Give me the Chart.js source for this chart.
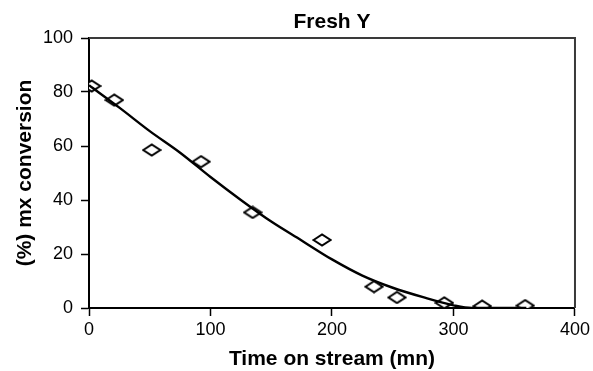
<!DOCTYPE html>
<html lang="en">

<head>
  <meta charset="UTF-8">
  <title>Fresh Y</title>
  <style>
    body {
      margin: 0;
      background-color: #ffffff;
    }

    .chart-box {
      width: 593px;
      height: 371px;
      position: relative;
    }
  </style>
  <script src="https://cdn.jsdelivr.net/npm/chart.js"></script>
</head>

<body>
  <div class="chart-box">
    <canvas id="freshChart"></canvas>
  </div>

  <script>
    // measured conversion vs time on stream
    const timeMeasured = [2.2, 20.8, 51.6, 92.2, 134.7, 191.8, 234.6, 253.5, 292.4, 323.6, 359];
    const convMeasured = [82.2, 77, 58.5, 54.2, 35.4, 25.2, 7.9, 3.9, 1.9, 0.7, 0.9];

    // fitted trend curve
    const timeFit = [0, 25, 50, 75, 100, 125, 150, 175, 200, 225, 250, 275, 300, 315, 330, 345, 360];
    const convFit = [82.5, 74.2, 65.5, 57.5, 48.5, 40, 32, 25, 18, 12, 7.5, 4, 1, 0, 0, 0, 0];

    const xTicks = [0, 100, 200, 300, 400];
    const yTicks = [0, 20, 40, 60, 80, 100];

    const chartTitle = 'Fresh Y';
    const fontFamily = '"Liberation Sans", Arial, sans-serif';

    // open diamond marker, a bit wider than tall
    function makeDiamond() {
      const c = document.createElement('canvas');
      c.width = 20;
      c.height = 14;
      const g = c.getContext('2d');
      g.beginPath();
      g.moveTo(1.5, 7);
      g.lineTo(10, 1.5);
      g.lineTo(18.5, 7);
      g.lineTo(10, 12.5);
      g.closePath();
      g.fillStyle = '#ffffff';
      g.fill();
      g.lineWidth = 2;
      g.strokeStyle = '#000000';
      g.stroke();
      return c;
    }

    // top and right edges of the plot frame, title centred over the plot
    const frame = {
      id: 'frame',
      afterDraw(chart) {
        const { ctx, chartArea: a } = chart;
        ctx.save();
        ctx.strokeStyle = '#3a3a3a';
        ctx.lineWidth = 2;
        ctx.beginPath();
        ctx.moveTo(a.left, a.top);
        ctx.lineTo(a.right, a.top);
        ctx.lineTo(a.right, a.bottom);
        ctx.stroke();

        ctx.fillStyle = '#000000';
        ctx.font = 'bold 21px ' + fontFamily;
        ctx.textAlign = 'center';
        ctx.textBaseline = 'alphabetic';
        ctx.fillText(chartTitle, (a.left + a.right) / 2, 28);
        ctx.restore();
      }
    };

    const ctx = document.getElementById('freshChart').getContext('2d');

    new Chart(ctx, {
      type: 'scatter',
      data: {
        datasets: [{
          label: 'fit',
          data: timeFit.map((t, i) => ({ x: t, y: convFit[i] })),
          showLine: true,
          borderColor: '#000000',
          borderWidth: 2.4,
          pointRadius: 0,
          cubicInterpolationMode: 'monotone'
        }, {
          label: 'measured',
          data: timeMeasured.map((t, i) => ({ x: t, y: convMeasured[i] })),
          pointStyle: makeDiamond(),
          pointRadius: 8
        }]
      },
      options: {
        responsive: true,
        maintainAspectRatio: false,
        animation: false,
        layout: {
          padding: { left: 0, right: 18, top: 38, bottom: 0 }
        },
        plugins: {
          legend: { display: false },
          tooltip: { enabled: false },
          title: { display: false }
        },
        scales: {
          x: {
            type: 'linear',
            min: 0,
            max: 400,
            afterBuildTicks: s => { s.ticks = xTicks.map(v => ({ value: v })); },
            afterFit: s => { s.height = 63; },
            grid: {
              drawOnChartArea: false,
              drawTicks: true,
              tickLength: 8,
              tickColor: '#000000',
              tickWidth: 1.5
            },
            border: { color: '#000000', width: 2 },
            ticks: {
              color: '#000000',
              padding: 3,
              font: { family: fontFamily, size: 18 }
            },
            title: {
              display: true,
              text: 'Time on stream (mn)',
              color: '#000000',
              font: { family: fontFamily, size: 21, weight: 'bold', lineHeight: 1.1 },
              padding: { top: 0, bottom: 0 }
            }
          },
          y: {
            type: 'linear',
            min: 0,
            max: 100,
            afterBuildTicks: s => { s.ticks = yTicks.map(v => ({ value: v })); },
            afterFit: s => { s.width = 89; },
            grid: {
              drawOnChartArea: false,
              drawTicks: true,
              tickLength: 8,
              tickColor: '#000000',
              tickWidth: 1.5
            },
            border: { color: '#000000', width: 2 },
            ticks: {
              color: '#000000',
              padding: 8,
              font: { family: fontFamily, size: 18 }
            },
            title: {
              display: true,
              text: '(%) mx conversion',
              color: '#000000',
              font: { family: fontFamily, size: 21, weight: 'bold', lineHeight: 1.1 },
              padding: { top: 13.5, bottom: 0 }
            }
          }
        }
      },
      plugins: [frame]
    });
  </script>
</body>

</html>
